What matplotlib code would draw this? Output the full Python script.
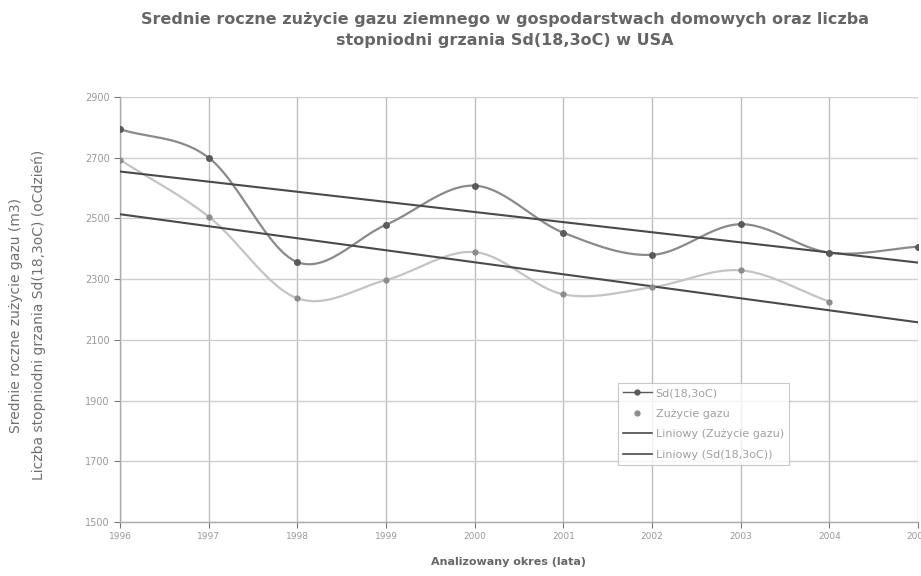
import numpy as np
import matplotlib.pyplot as plt

years = [1996, 1997, 1998, 1999, 2000, 2001, 2002, 2003, 2004, 2005]
sd_values = [2794, 2700, 2356, 2479, 2608, 2453, 2380, 2481, 2387, 2407]
gas_years = [1996, 1997, 1998, 1999, 2000, 2001, 2002, 2003, 2004]
gas_values = [2693, 2506, 2237, 2297, 2389, 2250, 2273, 2329, 2226]
y_ticks = [1500, 1700, 1900, 2100, 2300, 2500, 2700, 2900]

plt.rcParams['font.family'] = ['DejaVu Sans']
txt = '#666666'


def smooth(x, y, n=30):
    # Catmull-Rom spline, similar to the "smoothed line" option of spreadsheets
    x = np.asarray(x, float)
    y = np.asarray(y, float)
    px = np.concatenate([[2 * x[0] - x[1]], x, [2 * x[-1] - x[-2]]])
    py = np.concatenate([[2 * y[0] - y[1]], y, [2 * y[-1] - y[-2]]])
    xs, ys = [], []
    t = np.linspace(0, 1, n)
    for i in range(1, len(px) - 2):
        for arr, out in ((px, xs), (py, ys)):
            p0, p1, p2, p3 = arr[i - 1], arr[i], arr[i + 1], arr[i + 2]
            out.extend(0.5 * (2 * p1 + (-p0 + p2) * t
                              + (2 * p0 - 5 * p1 + 4 * p2 - p3) * t ** 2
                              + (-p0 + 3 * p1 - 3 * p2 + p3) * t ** 3))
    return np.array(xs), np.array(ys)


fig = plt.figure(figsize=(9.21, 5.76), dpi=100)
ax = fig.add_axes([0.1303, 0.0938, 0.8664, 0.7378])

sx, sy = smooth(years, sd_values)
ax.plot(sx, sy, color='#8a8a8a', lw=1.6, zorder=3)
ax.plot(years, sd_values, 'o', color='#5a5a5a', ms=4, zorder=4)

gx, gy = smooth(gas_years, gas_values)
ax.plot(gx, gy, color='#c4c4c4', lw=1.6, zorder=3)
ax.plot(gas_years, gas_values, 'o', color='#8c8c8c', ms=3.5, zorder=4)

# linear trends, extended to the last year
xt = np.array(years, float)
k, b = np.polyfit(gas_years, gas_values, 1)
ax.plot(xt, k * xt + b, color='#4a4a4a', lw=1.5, zorder=3)
k2, b2 = np.polyfit(years, sd_values, 1)
ax.plot(xt, k2 * xt + b2, color='#4a4a4a', lw=1.5, zorder=3)

# legend drawn with proxy handles
h_sd, = ax.plot([], [], '-o', color='#5a5a5a', ms=3.5, lw=1.0)
h_gas, = ax.plot([], [], 'o', color='#8c8c8c', ms=3.5)
h_lg, = ax.plot([], [], '-', color='#4a4a4a', lw=1.2)
h_ls, = ax.plot([], [], '-', color='#4a4a4a', lw=1.2)
leg = ax.legend([h_sd, h_gas, h_lg, h_ls],
                ['Sd(18,3oC)', 'Zużycie gazu', 'Liniowy (Zużycie gazu)',
                 'Liniowy (Sd(18,3oC))'],
                loc='upper left', bbox_to_anchor=(0.624, 0.327),
                borderaxespad=0, fontsize=8, frameon=True, fancybox=False,
                handlelength=2.6, handletextpad=0.35, labelspacing=0.95,
                borderpad=0.45, labelcolor='#a0a0a0')
leg.get_frame().set_edgecolor('#bbbbbb')
leg.get_frame().set_linewidth(0.8)
leg.set_zorder(5)

ax.set_xlim(1996, 2005)
ax.set_ylim(1500, 2900)
ax.set_xticks(years)
ax.set_yticks(y_ticks)
ax.tick_params(colors='#777777', length=4, width=0.8, labelcolor='#999999')
ax.tick_params(axis='x', labelsize=6.5)
ax.tick_params(axis='y', labelsize=7)
ax.grid(True, color='#cfcfcf', lw=1.0)
ax.xaxis.grid(True, color='#bdbdbd', lw=1.0)
for side in ('top', 'right'):
    ax.spines[side].set_visible(False)
for side in ('left', 'bottom'):
    ax.spines[side].set_color('#aaaaaa')
    ax.spines[side].set_linewidth(1.0)

fig.text(0.548, 0.948,
         'Srednie roczne zużycie gazu ziemnego w gospodarstwach domowych oraz liczba\n'
         'stopniodni grzania Sd(18,3oC) w USA',
         ha='center', va='center', fontsize=11.5, fontweight='bold', color=txt,
         linespacing=1.5)
fig.text(0.552, 0.024, 'Analizowany okres (lata)', ha='center', va='center',
         fontsize=8, fontweight='bold', color=txt)
fig.text(0.03, 0.453,
         'Srednie roczne zużycie gazu (m3)\n'
         'Liczba stopniodni grzania Sd(18,3oC) (oCdzień)',
         ha='center', va='center', rotation=90, fontsize=10, color='#707070',
         linespacing=1.7)

fig.savefig('out.png', dpi=100)
